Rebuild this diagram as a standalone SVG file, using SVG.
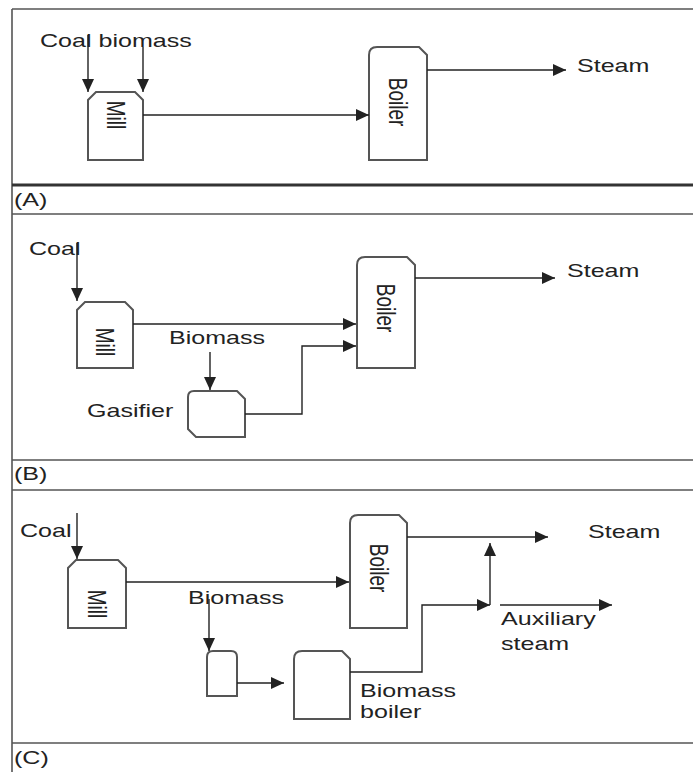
<svg xmlns="http://www.w3.org/2000/svg" width="693" height="772" viewBox="0 0 693 772">
<style>
text{font-family:"Liberation Sans",Arial,sans-serif;font-size:19px;fill:#222}
.rt{text-anchor:middle}
.box{fill:#fff;stroke:#555;stroke-width:2}
.frame{stroke:#555;stroke-width:1.6;fill:none}
.conn path{fill:none;stroke:#222;stroke-width:1.4}
</style>
<defs>
<marker id="ah" markerUnits="userSpaceOnUse" markerWidth="14" markerHeight="12" refX="13" refY="6" orient="auto">
<path d="M0,0 L13,6 L0,12 Z" fill="#222"/>
</marker>
</defs>
<rect x="0" y="0" width="693" height="772" fill="#fff"/>
<g id="frame">
<path class="frame" d="M12,9 H693 M12,9 V772 M12,214 H693 M12,460 H693 M12,490 H693 M12,743 H693"/>
<path d="M12,185 H693" stroke="#333" stroke-width="3"/>
<text transform="translate(14,206) scale(1.32,1)">(A)</text>
<text transform="translate(14,480) scale(1.32,1)">(B)</text>
<text transform="translate(14,764) scale(1.32,1)">(C)</text>
</g>
<g id="panelA">
<g id="a-labels">
<text transform="translate(40,47) scale(1.32,1)">Coal biomass</text>
<text transform="translate(577,72) scale(1.32,1)">Steam</text>
</g>
<g id="a-mill">
<path class="box" d="M88,160 V100 L96,92 H135 L143,100 V160 Z"/>
<text class="rt" transform="translate(116,115) scale(1.32,1) rotate(90)" dy="0.35em">Mill</text>
</g>
<g id="a-boiler">
<path class="box" d="M369,160 V55 Q369,47 377,47 H419 L427,55 V160 Z"/>
<text class="rt" transform="translate(398,102) scale(1.32,1) rotate(90)" dy="0.35em">Boiler</text>
</g>
</g>
<g id="panelB">
<g id="b-labels">
<text transform="translate(29,255) scale(1.32,1)">Coal</text>
<text transform="translate(567,277) scale(1.32,1)">Steam</text>
<text transform="translate(169,344) scale(1.32,1)">Biomass</text>
<text transform="translate(87,417) scale(1.32,1)">Gasifier</text>
</g>
<g id="b-mill">
<path class="box" d="M77,368 V310 L85,302 H125 L133,310 V368 Z"/>
<text class="rt" transform="translate(105,342) scale(1.32,1) rotate(90)" dy="0.35em">Mill</text>
</g>
<g id="b-boiler">
<path class="box" d="M357,368 V265 Q357,257 365,257 H407 L415,265 V368 Z"/>
<text class="rt" transform="translate(386,308) scale(1.32,1) rotate(90)" dy="0.35em">Boiler</text>
</g>
<g id="b-gasifier">
<path class="box" d="M188,429 V397 Q188,391 194,391 H237 L245,399 V437 H196 Z"/>
</g>
</g>
<g id="panelC">
<g id="c-labels">
<text transform="translate(20,537) scale(1.32,1)">Coal</text>
<text transform="translate(588,538) scale(1.32,1)">Steam</text>
<text transform="translate(188,604) scale(1.32,1)">Biomass</text>
<text transform="translate(501,625) scale(1.32,1)">Auxiliary</text>
<text transform="translate(501,650) scale(1.32,1)">steam</text>
<text transform="translate(360,697) scale(1.32,1)">Biomass</text>
<text transform="translate(360,718) scale(1.32,1)">boiler</text>
</g>
<g id="c-mill">
<path class="box" d="M68,628 V568 L76,560 H118 L126,568 V628 Z"/>
<text class="rt" transform="translate(97,604) scale(1.32,1) rotate(90)" dy="0.35em">Mill</text>
</g>
<g id="c-boiler">
<path class="box" d="M350,628 V523 Q350,515 358,515 H399 L407,523 V628 Z"/>
<text class="rt" transform="translate(379,568) scale(1.32,1) rotate(90)" dy="0.35em">Boiler</text>
</g>
<g id="c-prep">
<path class="box" d="M207,696 V657 Q207,651 213,651 H231 Q237,651 237,657 V696 Z"/>
</g>
<g id="c-bboiler">
<path class="box" d="M294,719 V659 Q294,651 302,651 H342 L350,659 V719 Z"/>
</g>
</g>
<g id="connectors" class="conn">
<path d="M88,35 V92" marker-end="url(#ah)"/>
<path d="M143,47 V92" marker-end="url(#ah)"/>
<path d="M143,115 H369" marker-end="url(#ah)"/>
<path d="M427,70 H566" marker-end="url(#ah)"/>
<path d="M77,243 V301" marker-end="url(#ah)"/>
<path d="M133,324 H356" marker-end="url(#ah)"/>
<path d="M415,278 H555" marker-end="url(#ah)"/>
<path d="M210,352 V390" marker-end="url(#ah)"/>
<path d="M245,414 H302 V346 H356" marker-end="url(#ah)"/>
<path d="M77,513 V559" marker-end="url(#ah)"/>
<path d="M126,582 H349" marker-end="url(#ah)"/>
<path d="M407,537 H548" marker-end="url(#ah)"/>
<path d="M490,605 V543" marker-end="url(#ah)"/>
<path d="M209,599 V651" marker-end="url(#ah)"/>
<path d="M237,683 H284" marker-end="url(#ah)"/>
<path d="M350,672 H422 V605 H490" marker-end="url(#ah)"/>
<path d="M500,605 H612" marker-end="url(#ah)"/>
</g>
</svg>
